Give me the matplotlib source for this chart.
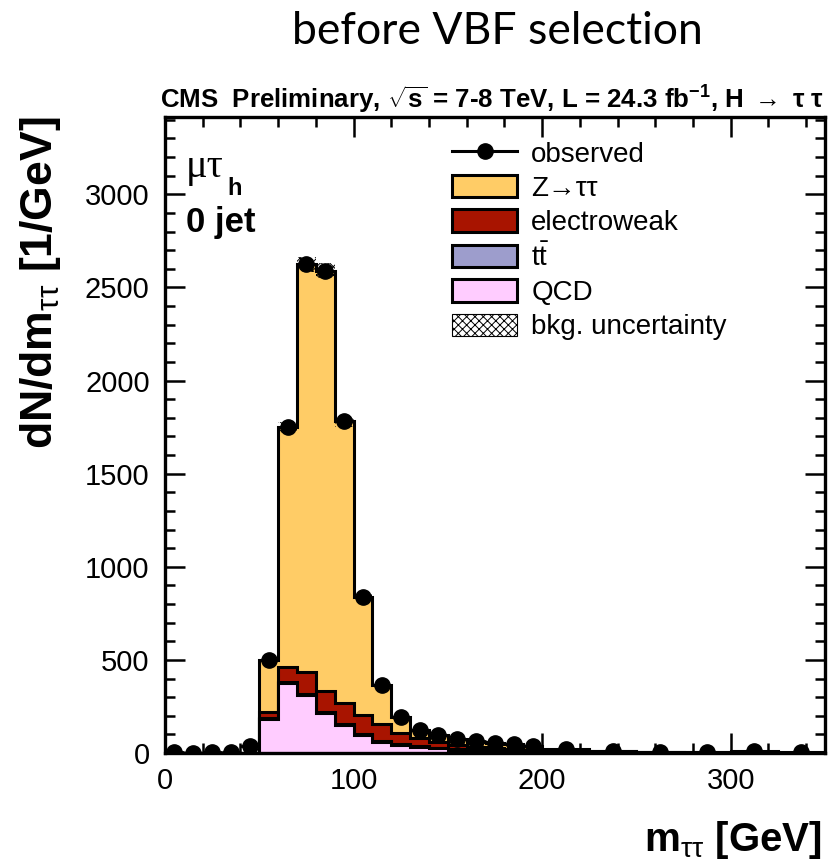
import numpy as np
import matplotlib
matplotlib.use('Agg')
import matplotlib.pyplot as plt
from matplotlib.patches import Patch
from matplotlib.lines import Line2D

plt.rcParams['font.family'] = ['Liberation Sans', 'DejaVu Sans']
plt.rcParams['mathtext.fontset'] = 'custom'
plt.rcParams['mathtext.rm'] = 'Liberation Sans'
plt.rcParams['mathtext.bf'] = 'Liberation Sans:bold'
plt.rcParams['mathtext.it'] = 'Liberation Sans:italic'
plt.rcParams['hatch.linewidth'] = 0.7

# bin edges in GeV (10 GeV up to 200, then 25 GeV)
edges = [0, 10, 20, 30, 40, 50, 60, 70, 80, 90, 100, 110, 120, 130, 140, 150,
         160, 170, 180, 190, 200, 225, 250, 275, 300, 325, 350]

# per-GeV event yields
observed = [5, 2, 4, 8, 35, 497, 1748, 2625, 2590, 1780, 840, 365, 192, 125,
            97, 75, 62, 56, 48, 40, 21, 13, 8, 7, 9, 6]
qcd = [0, 0, 0, 0, 0, 185, 375, 312, 213, 150, 97, 60, 42, 33, 25, 18, 13,
       10, 8, 6, 4, 3, 2, 1, 1, 1]
ttbar = [0, 0, 0, 0, 0, 2, 4, 5, 6, 6, 6, 6, 5, 5, 4, 4, 3, 3, 3, 2, 2, 2,
         1, 1, 1, 0.5]
ewk = [0, 0, 0, 0, 0, 35, 85, 120, 112, 112, 100, 90, 60, 40, 30, 22, 18, 14,
       12, 10, 7, 4, 3, 2, 2, 1]
ztt = [0, 0, 0, 0, 0, 275, 1284, 2188, 2259, 1512, 637, 209, 84, 47, 37, 31,
       27, 29, 25, 21, 8, 4, 2, 3, 5, 3.5]
bkg_unc = [0, 0, 0, 0, 0, 10, 28, 40, 40, 30, 15, 8, 5, 3, 2, 2, 2, 2, 1, 1,
           1, 0.5, 0.5, 0.5, 0.5, 0.5]

col_ztt = '#FFCC66'
col_ewk = '#A81400'
col_tt = '#9D9DCC'
col_qcd = '#FFCCFF'

edges = np.array(edges, dtype=float)
centers = 0.5 * (edges[1:] + edges[:-1])
halfw = 0.5 * (edges[1:] - edges[:-1])

s_qcd = np.array(qcd, dtype=float)
s_tt = s_qcd + np.array(ttbar)
s_ewk = s_tt + np.array(ewk)
s_tot = s_ewk + np.array(ztt)
unc = np.array(bkg_unc)

fig = plt.figure(figsize=(8.36, 8.66), dpi=100)
ax = fig.add_axes([165/836, 1-753/866, 660/836, 636/866])

lw = 2.2
ax.stairs(s_tot, edges, baseline=0, fill=True, facecolor=col_ztt, edgecolor='k', lw=lw, zorder=2)
ax.stairs(s_ewk, edges, baseline=0, fill=True, facecolor=col_ewk, edgecolor='k', lw=lw, zorder=3)
ax.stairs(s_tt, edges, baseline=0, fill=True, facecolor=col_tt, edgecolor='k', lw=lw, zorder=4)
ax.stairs(s_qcd, edges, baseline=0, fill=True, facecolor=col_qcd, edgecolor='k', lw=lw, zorder=5)
ax.stairs(s_tot + unc, edges, baseline=s_tot - unc, fill=True, facecolor='none',
          edgecolor='k', hatch='xxxx', lw=0, zorder=6)

ax.errorbar(centers, observed, xerr=halfw, fmt='o', color='k', ms=11,
            elinewidth=2, capsize=0, zorder=10)

ax.set_xlim(0, 350)
ax.set_ylim(0, 3415)
ax.set_xticks([0, 100, 200, 300])
ax.set_xticks(np.arange(0, 351, 20), minor=True)
ax.set_yticks(np.arange(0, 3001, 500))
ax.set_yticks(np.arange(0, 3401, 100), minor=True)
ax.tick_params(which='both', direction='in', top=True, right=True, width=1.8,
               labelsize=21)
ax.tick_params(which='major', length=14.5)
ax.tick_params(which='minor', length=7.5)
ax.tick_params(axis='y', pad=11)
ax.tick_params(axis='x', pad=10)
for sp in ax.spines.values():
    sp.set_linewidth(2.4)
    sp.set_zorder(20)

# legend
handles = [
    Line2D([], [], color='k', marker='o', ms=11, lw=2.2),
    Patch(facecolor=col_ztt, edgecolor='k', lw=2.2),
    Patch(facecolor=col_ewk, edgecolor='k', lw=2.2),
    Patch(facecolor=col_tt, edgecolor='k', lw=2.2),
    Patch(facecolor=col_qcd, edgecolor='k', lw=2.2),
    Patch(facecolor='white', edgecolor='k', hatch='xxxx', lw=0.8),
]
labels = ['observed', 'Z→ττ', 'electroweak', r'$\mathrm{t\bar{t}}$', 'QCD',
          'bkg. uncertainty']
fig.legend(handles, labels, loc='upper left',
           bbox_to_anchor=(452/836, 1-141/866), frameon=False, fontsize=20,
           borderpad=0, borderaxespad=0, handlelength=2.35, handleheight=0.85,
           handletextpad=0.5, labelspacing=0.27)

# texts
fig.text(497/836, 1-32/866, 'before VBF selection', family='Lato',
         fontsize=32, ha='center', va='center')
fig.text(160/836, 1-100/866,
         r'CMS  Preliminary, $\mathbf{\sqrt{s}}$ = 7-8 TeV, L = 24.3 fb$^{\mathbf{-1}}$, H $\rightarrow$ τ τ',
         fontsize=18.6, fontweight='bold', ha='left', va='center')
fig.text(186/836, 1-177/866, 'μτ', family=['Liberation Serif', 'DejaVu Serif'],
         fontsize=29, ha='left', va='baseline')
fig.text(227/836, 1-195/866, 'h', fontsize=17, fontweight='bold', ha='left',
         va='baseline')
fig.text(186/836, 1-232/866, '0 jet', fontsize=25, fontweight='bold',
         ha='left', va='baseline')
fig.text(41/836, 1-117/866, r'dN/dm$_{\mathrm{ττ}}$ [1/GeV]', fontsize=32,
         fontweight='bold', rotation=90, ha='center', va='top')
fig.text(822/836, 1-840/866, r'm$_{\mathrm{ττ}}$ [GeV]', fontsize=29,
         fontweight='bold', ha='right', va='center')

fig.savefig('out.png', dpi=100)
